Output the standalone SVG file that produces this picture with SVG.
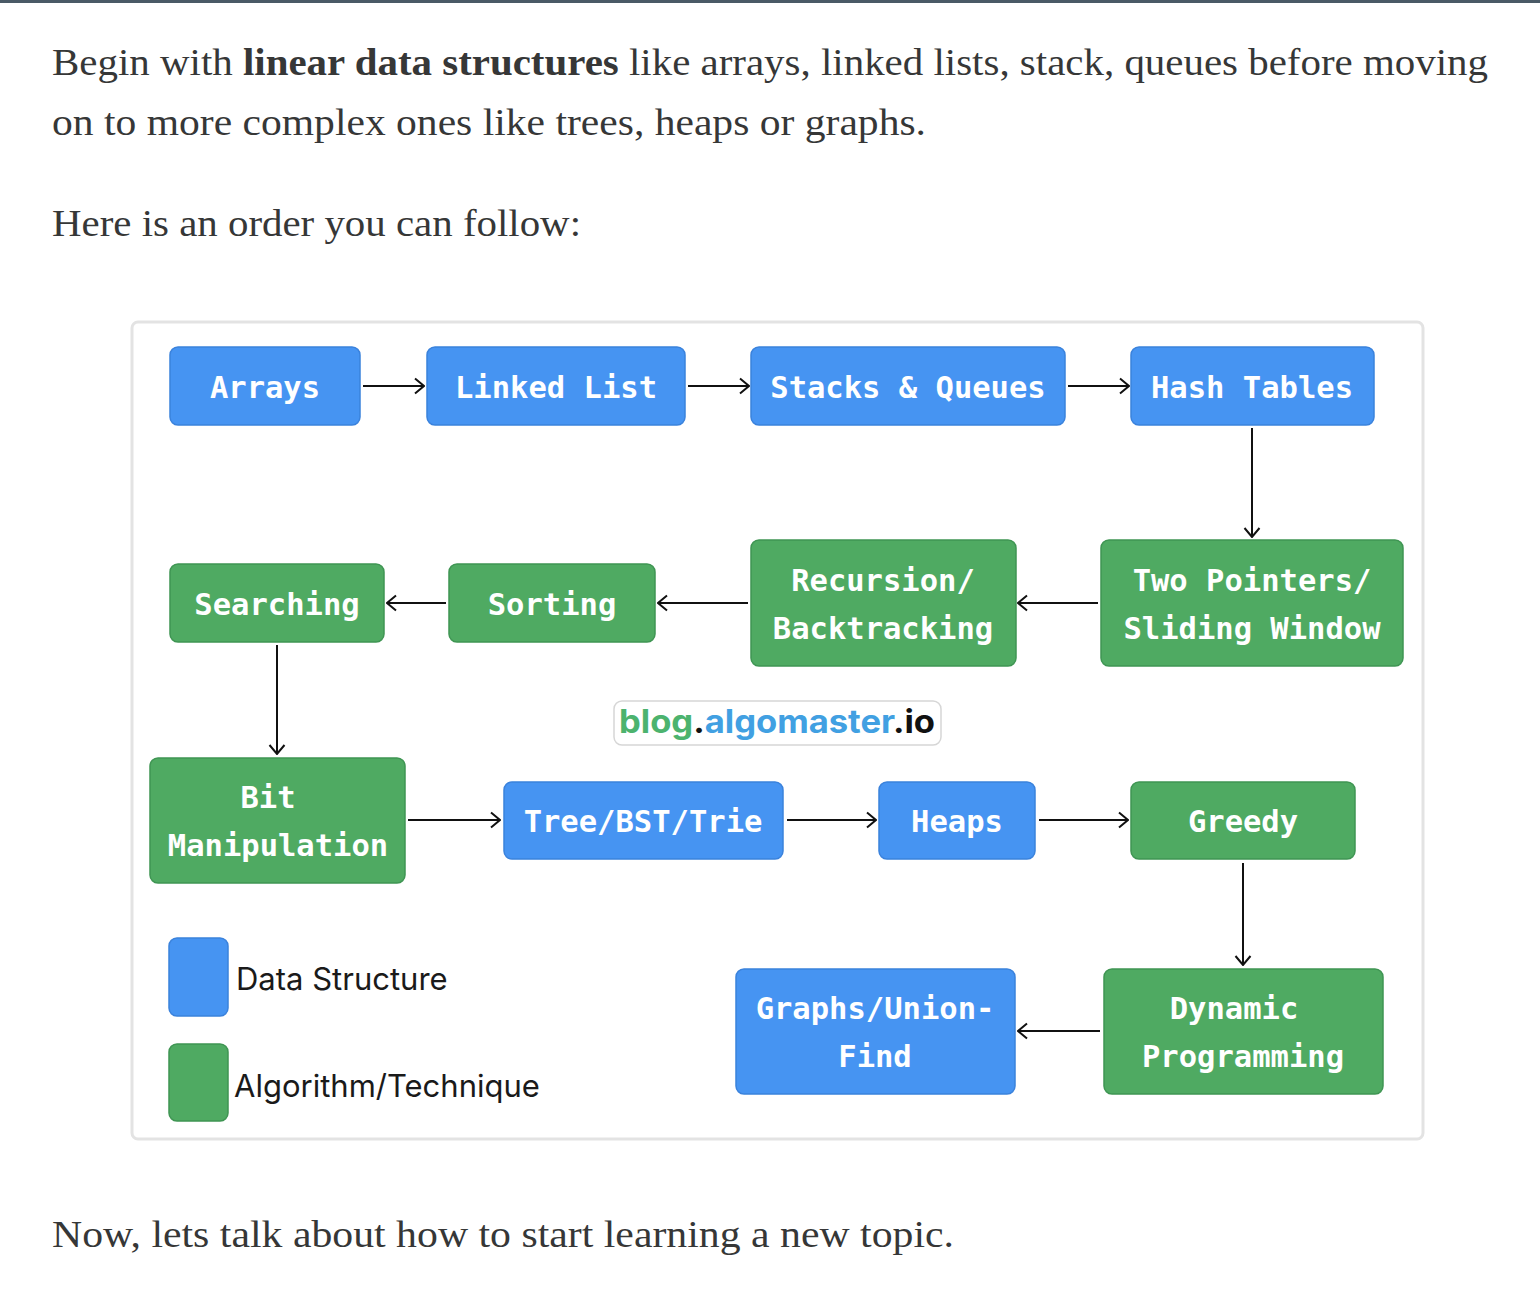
<svg xmlns="http://www.w3.org/2000/svg" width="1540" height="1304" viewBox="0 0 1540 1304">
<style>
.para{font-family:"Liberation Serif",serif;font-size:38px;fill:#363737}
.ds{fill:#4694f2;stroke:#3a82dc;stroke-width:1.5}
.al{fill:#4faa62;stroke:#3f9553;stroke-width:1.5}
.lbl{font-family:"DejaVu Sans Mono","Liberation Mono",monospace;font-weight:bold;font-size:30.5px;fill:#ffffff;text-anchor:middle;dominant-baseline:central}
.leg{font-family:"Inter","Liberation Sans",sans-serif;font-size:31px;fill:#1a1a1a}
.conn line{stroke:#111;stroke-width:2;marker-end:url(#arr)}
</style>
<defs>
<marker id="arr" viewBox="0 0 12 18" refX="11" refY="9" markerWidth="12" markerHeight="18" markerUnits="userSpaceOnUse" orient="auto">
<path d="M2,1.5 L11,9 L2,16.5" fill="none" stroke="#111" stroke-width="2"/>
</marker>
</defs>
<rect width="1540" height="1304" fill="#ffffff"/>
<rect x="0" y="0" width="1540" height="3" fill="#4a5a66"/>
<text class="para" x="52" y="75" textLength="1436" lengthAdjust="spacingAndGlyphs">Begin with <tspan font-weight="bold">linear data structures</tspan> like arrays, linked lists, stack, queues before moving</text>
<text class="para" x="52" y="135" textLength="874" lengthAdjust="spacingAndGlyphs">on to more complex ones like trees, heaps or graphs.</text>
<text class="para" x="52" y="236" textLength="529" lengthAdjust="spacingAndGlyphs">Here is an order you can follow:</text>
<text class="para" x="52" y="1247" textLength="902" lengthAdjust="spacingAndGlyphs">Now, lets talk about how to start learning a new topic.</text>

<rect x="132" y="322" width="1291" height="817" rx="6" fill="#ffffff" stroke="#e3e3e3" stroke-width="3"/>

<g class="conn">
<line x1="363" y1="386" x2="424" y2="386"/>
<line x1="688" y1="386" x2="749" y2="386"/>
<line x1="1068" y1="386" x2="1129" y2="386"/>
<line x1="1252" y1="428" x2="1252" y2="537"/>
<line x1="1098" y1="603" x2="1018" y2="603"/>
<line x1="748" y1="603" x2="658" y2="603"/>
<line x1="446" y1="603" x2="387" y2="603"/>
<line x1="277" y1="645" x2="277" y2="754"/>
<line x1="408" y1="820" x2="500" y2="820"/>
<line x1="787" y1="820" x2="876" y2="820"/>
<line x1="1039" y1="820" x2="1128" y2="820"/>
<line x1="1243" y1="863" x2="1243" y2="965"/>
<line x1="1100" y1="1031" x2="1018" y2="1031"/>
</g>

<g id="arrays"><rect class="ds" x="170" y="347" width="190" height="78" rx="8"/><text class="lbl" x="265" y="387">Arrays</text></g>
<g id="linked-list"><rect class="ds" x="427" y="347" width="258" height="78" rx="8"/><text class="lbl" x="556" y="387">Linked List</text></g>
<g id="stacks-queues"><rect class="ds" x="751" y="347" width="314" height="78" rx="8"/><text class="lbl" x="908" y="387">Stacks &amp; Queues</text></g>
<g id="hash-tables"><rect class="ds" x="1131" y="347" width="243" height="78" rx="8"/><text class="lbl" x="1252" y="387">Hash Tables</text></g>
<g id="two-pointers"><rect class="al" x="1101" y="540" width="302" height="126" rx="8"/><text class="lbl" x="1252" y="580">Two Pointers/</text><text class="lbl" x="1252" y="628">Sliding Window</text></g>
<g id="recursion"><rect class="al" x="751" y="540" width="265" height="126" rx="8"/><text class="lbl" x="883" y="580">Recursion/</text><text class="lbl" x="883" y="628">Backtracking</text></g>
<g id="sorting"><rect class="al" x="449" y="564" width="206" height="78" rx="8"/><text class="lbl" x="552" y="604">Sorting</text></g>
<g id="searching"><rect class="al" x="170" y="564" width="214" height="78" rx="8"/><text class="lbl" x="277" y="604">Searching</text></g>
<g id="bit-manipulation"><rect class="al" x="150" y="758" width="255" height="125" rx="8"/><text class="lbl" x="268" y="797">Bit</text><text class="lbl" x="278" y="845">Manipulation</text></g>
<g id="tree"><rect class="ds" x="504" y="782" width="279" height="77" rx="8"/><text class="lbl" x="643" y="821">Tree/BST/Trie</text></g>
<g id="heaps"><rect class="ds" x="879" y="782" width="156" height="77" rx="8"/><text class="lbl" x="957" y="821">Heaps</text></g>
<g id="greedy"><rect class="al" x="1131" y="782" width="224" height="77" rx="8"/><text class="lbl" x="1243" y="821">Greedy</text></g>
<g id="dp"><rect class="al" x="1104" y="969" width="279" height="125" rx="8"/><text class="lbl" x="1234" y="1008">Dynamic</text><text class="lbl" x="1243" y="1056">Programming</text></g>
<g id="graphs"><rect class="ds" x="736" y="969" width="279" height="125" rx="8"/><text class="lbl" x="875" y="1008">Graphs/Union-</text><text class="lbl" x="875" y="1056">Find</text></g>

<g id="watermark">
<rect x="614" y="701" width="327" height="44" rx="8" fill="#ffffff" stroke="#d6d6d6" stroke-width="1.5"/>
<text x="619" y="733" font-family="Inter,'Liberation Sans',sans-serif" font-weight="bold" font-size="32" textLength="316" lengthAdjust="spacingAndGlyphs"><tspan fill="#4cb36e">blog</tspan><tspan fill="#111">.</tspan><tspan fill="#41a0e2">algomaster</tspan><tspan fill="#111">.io</tspan></text>
</g>

<g id="legend-ds"><rect class="ds" x="169" y="938" width="59" height="78" rx="8"/><text class="leg" x="236" y="990">Data Structure</text></g>
<g id="legend-al"><rect class="al" x="169" y="1044" width="59" height="77" rx="8"/><text class="leg" x="234" y="1097">Algorithm/Technique</text></g>
</svg>
